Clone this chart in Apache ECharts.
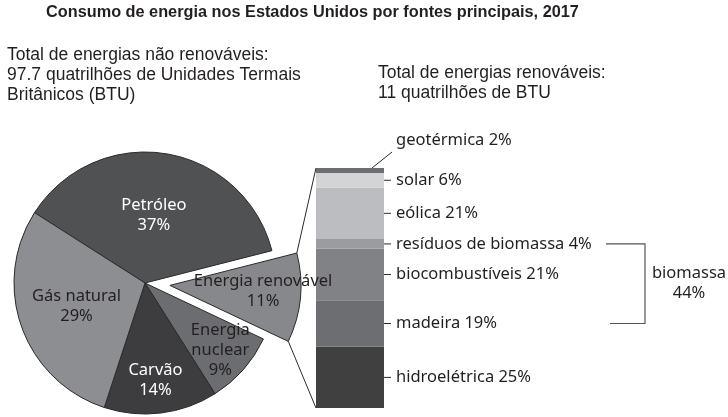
<!DOCTYPE html>
<html><head><meta charset="utf-8">
<script src="https://cdn.jsdelivr.net/npm/echarts@6/dist/echarts.min.js"></script>
<style>html,body{margin:0;padding:0;background:#fff}#c{width:728px;height:417px}</style>
</head><body><div id="c"></div>
<script>
// ---- data ----
const titleText = 'Consumo de energia nos Estados Unidos por fontes principais, 2017';
const nonRenewText = ['Total de energias não renováveis:', '97.7 quatrilhões de Unidades Termais', 'Britânicos (BTU)'];
const renewText = ['Total de energias renováveis:', '11 quatrilhões de BTU'];

const pieNames = ['Petróleo', 'Energia renovável', 'Energia nuclear', 'Carvão', 'Gás natural'];
const pieLabels = ['Petróleo', 'Energia renovável', 'Energia\nnuclear', 'Carvão', 'Gás natural'];
const pieValues = [37, 11, 9, 14, 29];

const renewNames = ['hidroelétrica', 'madeira', 'biocombustíveis', 'resíduos de biomassa', 'eólica', 'solar', 'geotérmica'];
const renewValues = [25, 19, 21, 4, 21, 6, 2];
const biomassMembers = ['madeira', 'biocombustíveis', 'resíduos de biomassa'];
const biomassLabel = 'biomassa';
const biomassValue = 44;

// ---- styles ----
const TXT = '#231f20';
const LABEL_FONT = '"Noto Sans", "Open Sans", sans-serif';
const LABEL_SIZE = 16.5;
const HEAD_FONT = '"Liberation Sans", Arial, sans-serif';
const PIE_CX = 145, PIE_CY = 283, PIE_R = 131, PIE_START = 147.5, PIE_OFFSET = 25;
const pieColors = ['#505153', '#87888c', '#6c6d71', '#3d3d3f', '#8d8e91'];
const pieLabelColors = ['#ffffff', TXT, TXT, '#ffffff', TXT];
const pieLabelShift = [[-2, 0], [25, -1], [24, 22], [2, 29], [-4, 0]];
const barColors = ['#404041', '#6d6e71', '#818285', '#9b9c9f', '#bcbdc0', '#d3d4d6', '#6d6e71'];
const explodedIndex = pieNames.indexOf('Energia renovável');

const renewTotal = renewValues.reduce((a, b) => a + b, 0);
const pieTotal = pieValues.reduce((a, b) => a + b, 0);

const chart = echarts.init(document.getElementById('c'), null, {renderer: 'canvas'});

const barSeries = renewNames.map((n, i) => {
  const isTop = i === renewNames.length - 1;
  return {
    type: 'bar', name: n, stack: 'r', barWidth: '100%', silent: true,
    data: [renewValues[i]],
    itemStyle: {color: barColors[i]},
    label: {
      show: true, position: 'right', distance: 0,
      formatter: isTop ? ('{n|' + n + ' ' + renewValues[i] + '%}') : ('{t|}{n|' + n + ' ' + renewValues[i] + '%}'),
      rich: {
        t: {width: 7, height: 1, backgroundColor: '#2b2b2b'},
        n: {fontFamily: LABEL_FONT, fontSize: LABEL_SIZE, color: TXT, padding: [0, 0, 0, isTop ? 0 : 5]}
      }
    },
    labelLayout: isTop ? {dx: 12, dy: -30} : null
  };
});

function pieCorner(angleDeg, cx, cy) {
  const a = angleDeg * Math.PI / 180;
  return [cx + PIE_R * Math.cos(a), cy - PIE_R * Math.sin(a)];
}

const decor = {
  type: 'custom', coordinateSystem: 'cartesian2d', silent: true, clip: false, z: 5,
  data: [[0, renewTotal]],
  renderItem: function (params, api) {
    const bw = api.size([1, 0])[0];
    const topC = api.coord([0, renewTotal]);
    const botC = api.coord([0, 0]);
    const left = topC[0] - bw / 2, right = topC[0] + bw / 2;
    const ls = {stroke: '#2b2b2b', lineWidth: 1, fill: null};
    let before = 0;
    for (let i = 0; i < explodedIndex; i++) before += pieValues[i];
    const a0 = PIE_START - 360 * before / pieTotal;
    const a1 = a0 - 360 * pieValues[explodedIndex] / pieTotal;
    const mid = (a0 + a1) / 2 * Math.PI / 180;
    const ecx = PIE_CX + PIE_OFFSET * Math.cos(mid), ecy = PIE_CY - PIE_OFFSET * Math.sin(mid);
    const c0 = pieCorner(a0, ecx, ecy), c1 = pieCorner(a1, ecx, ecy);
    let cum = 0; const centers = {};
    renewNames.forEach((n, i) => { centers[n] = cum + renewValues[i] / 2; cum += renewValues[i]; });
    const ys = biomassMembers.map(n => api.coord([0, centers[n]])[1]);
    const yTop = Math.min.apply(null, ys), yBot = Math.max.apply(null, ys);
    const bx = right + 261;
    return {
      type: 'group',
      children: [
        {type: 'line', shape: {x1: c0[0], y1: c0[1], x2: left, y2: topC[1]}, style: ls},
        {type: 'line', shape: {x1: c1[0], y1: c1[1], x2: left, y2: botC[1]}, style: ls},
        {type: 'line', shape: {x1: right - 12, y1: topC[1], x2: right + 8, y2: topC[1] - 16}, style: ls},
        {type: 'polyline', shape: {points: [[right + 222, yTop], [bx, yTop], [bx, yBot], [right + 226, yBot]]}, style: {stroke: '#555', lineWidth: 1.2, fill: null}},
        {type: 'text', x: right + 305, y: (yTop + yBot) / 2,
          style: {text: biomassLabel + '\n' + biomassValue + '%', align: 'center', verticalAlign: 'middle',
            font: LABEL_SIZE + 'px ' + LABEL_FONT, fill: TXT, lineHeight: 20}}
      ]
    };
  }
};

const option = {
  animation: false,
  backgroundColor: '#ffffff',
  title: [
    {text: titleText, left: 46, top: 3, padding: 0,
      textStyle: {fontFamily: HEAD_FONT, fontWeight: 'bold', fontSize: 16.3, color: TXT, lineHeight: 20}},
    {text: nonRenewText.join('\n'), left: 7, top: 45, padding: 0,
      textStyle: {fontFamily: HEAD_FONT, fontWeight: 'normal', fontSize: 17.5, color: TXT, lineHeight: 20}},
    {text: renewText.join('\n'), left: 378, top: 63, padding: 0,
      textStyle: {fontFamily: HEAD_FONT, fontWeight: 'normal', fontSize: 17.5, color: TXT, lineHeight: 20}}
  ],
  grid: {left: 316, width: 68, top: 168, height: 240},
  xAxis: {type: 'category', data: ['renováveis'], show: false},
  yAxis: {type: 'value', min: 0, max: renewTotal, show: false},
  series: [
    {
      type: 'pie', center: [PIE_CX, PIE_CY], radius: PIE_R, startAngle: PIE_START, clockwise: true,
      selectedMode: 'single', selectedOffset: PIE_OFFSET, avoidLabelOverlap: false,
      emphasis: {disabled: true, scale: false},
      itemStyle: {borderColor: '#2a2a2a', borderWidth: 1},
      label: {show: true, position: 'inside', fontFamily: LABEL_FONT, fontSize: LABEL_SIZE, lineHeight: 20,
        formatter: p => pieLabels[p.dataIndex] + '\n' + p.value + '%'},
      labelLine: {show: false},
      labelLayout: p => ({dx: pieLabelShift[p.dataIndex][0], dy: pieLabelShift[p.dataIndex][1]}),
      data: pieNames.map((n, i) => ({
        name: n, value: pieValues[i], selected: i === explodedIndex,
        itemStyle: {color: pieColors[i]}, label: {color: pieLabelColors[i]}
      }))
    }
  ].concat(barSeries).concat([decor])
};
chart.setOption(option);
</script></body></html>
